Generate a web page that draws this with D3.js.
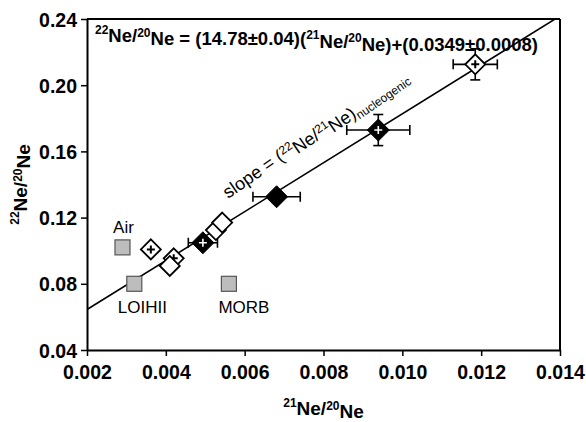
<!DOCTYPE html>
<html>
<head>
<meta charset="utf-8">
<script src="https://cdn.jsdelivr.net/npm/d3@7"></script>
<style>
  body { margin: 0; background: #fff; }
  svg text { font-family: "Liberation Sans", Arial, sans-serif; fill: #000; }
</style>
</head>
<body>
<svg id="chart" width="586" height="422"></svg>
<script>
// reference gases
const refNames = ["Air", "LOIHII", "MORB"];
const refX = [0.0029, 0.0032, 0.0056];
const refY = [0.102, 0.080, 0.080];

// open diamonds
const openX = [0.00362, 0.00420, 0.00410, 0.00527, 0.00543, 0.01185];
const openY = [0.1008, 0.0954, 0.0908, 0.1125, 0.1170, 0.2126];
const openXErr = [0, 0, 0, 0, 0, 0.00056];
const openYErr = [0, 0, 0, 0, 0, 0.0094];
const openCross = [true, true, false, false, false, true];

// solid diamonds
const solidX = [0.00494, 0.00681, 0.00939];
const solidY = [0.1048, 0.1326, 0.1729];
const solidXErr = [0.00037, 0.0006, 0.0008];
const solidYErr = [0, 0, 0.0094];
const solidCross = [true, false, true];

// regression
const slope = 14.78, intercept = 0.0349;

const xTicks = [0.002, 0.004, 0.006, 0.008, 0.010, 0.012, 0.014];
const yTicks = [0.04, 0.08, 0.12, 0.16, 0.20, 0.24];

const svg = d3.select("#chart");
const margin = { top: 19, right: 26, bottom: 72, left: 87 };
const width = +svg.attr("width") - margin.left - margin.right;
const height = +svg.attr("height") - margin.top - margin.bottom;

const g = svg.append("g").attr("transform", `translate(${margin.left},${margin.top})`);

const x = d3.scaleLinear().domain([0.002, 0.014]).range([0, width]);
const y = d3.scaleLinear().domain([0.04, 0.24]).range([height, 0]);

// axes
const xAxis = g.append("g")
  .attr("transform", `translate(0,${height})`)
  .call(d3.axisBottom(x).tickValues(xTicks).tickFormat(d3.format(".3f")).tickSizeInner(6).tickSizeOuter(0).tickPadding(9));
const yAxis = g.append("g")
  .call(d3.axisLeft(y).tickValues(yTicks).tickFormat(d3.format(".2f")).tickSizeInner(6).tickSizeOuter(0).tickPadding(4));

[xAxis, yAxis].forEach(a => {
  a.selectAll("path").attr("stroke", "#000").attr("stroke-width", 2);
  a.selectAll("line").attr("stroke", "#000").attr("stroke-width", 1.5);
  a.selectAll("text")
    .style("font-size", "19.5px")
    .style("font-weight", "bold")
    .attr("font-family", null);
});
yAxis.selectAll("text").attr("dy", "0.36em");

// frame top / right
g.append("line").attr("x1", 0).attr("x2", width).attr("y1", 0).attr("y2", 0)
  .attr("stroke", "#000").attr("stroke-width", 2);
g.append("line").attr("x1", width).attr("x2", width).attr("y1", 0).attr("y2", height)
  .attr("stroke", "#000").attr("stroke-width", 2);

// clip
svg.append("defs").append("clipPath").attr("id", "clip")
  .append("rect").attr("width", width).attr("height", height);

// regression line
const x0 = 0.002, x1 = 0.014;
g.append("line")
  .attr("clip-path", "url(#clip)")
  .attr("x1", x(x0)).attr("y1", y(slope * x0 + intercept))
  .attr("x2", x(x1)).attr("y2", y(slope * x1 + intercept))
  .attr("stroke", "#000").attr("stroke-width", 1.6);

// error bars helper
function errBars(xs, ys, xe, ye) {
  const eg = g.append("g").attr("stroke", "#000").attr("stroke-width", 1.6);
  xs.forEach((d, i) => {
    const cx = x(d), cy = y(ys[i]);
    if (xe[i] > 0) {
      const l = x(d - xe[i]), r = x(d + xe[i]);
      eg.append("line").attr("x1", l).attr("x2", r).attr("y1", cy).attr("y2", cy);
      eg.append("line").attr("x1", l).attr("x2", l).attr("y1", cy - 5).attr("y2", cy + 5);
      eg.append("line").attr("x1", r).attr("x2", r).attr("y1", cy - 5).attr("y2", cy + 5);
    }
    if (ye[i] > 0) {
      const t = y(ys[i] + ye[i]), b = y(ys[i] - ye[i]);
      eg.append("line").attr("x1", cx).attr("x2", cx).attr("y1", t).attr("y2", b);
      eg.append("line").attr("x1", cx - 5).attr("x2", cx + 5).attr("y1", t).attr("y2", t);
      eg.append("line").attr("x1", cx - 5).attr("x2", cx + 5).attr("y1", b).attr("y2", b);
    }
  });
}
errBars(openX, openY, openXErr, openYErr);
errBars(solidX, solidY, solidXErr, solidYErr);

const diamond = r => `M0,${-r}L${r},0L0,${r}L${-r},0Z`;

// open diamonds
openX.forEach((d, i) => {
  const p = g.append("g").attr("transform", `translate(${x(d)},${y(openY[i])})`);
  p.append("path").attr("d", diamond(10)).attr("fill", "#fff")
    .attr("stroke", "#000").attr("stroke-width", 1.8);
  if (openCross[i]) {
    p.append("path").attr("d", "M-4,0H4M0,-4V4").attr("stroke", "#000").attr("stroke-width", 2);
  }
});

// solid diamonds
solidX.forEach((d, i) => {
  const p = g.append("g").attr("transform", `translate(${x(d)},${y(solidY[i])})`);
  p.append("path").attr("d", diamond(11)).attr("fill", "#000").attr("stroke", "#000");
  if (solidCross[i]) {
    p.append("path").attr("d", "M-4,0H4M0,-4V4").attr("stroke", "#fff").attr("stroke-width", 1.6);
  }
});

// reference squares
const s = 15;
g.selectAll(".ref")
  .data(refX)
  .enter()
  .append("rect")
  .attr("class", "ref")
  .attr("x", d => x(d) - s / 2)
  .attr("y", (d, i) => y(refY[i]) - s / 2)
  .attr("width", s).attr("height", s)
  .attr("fill", "#bdbdbd").attr("stroke", "#555").attr("stroke-width", 1.2);

const refDx = [1, 8, 15];
const refDy = [-14, 29, 29];
g.selectAll(".refLab")
  .data(refNames)
  .enter()
  .append("text")
  .attr("x", (d, i) => x(refX[i]) + refDx[i])
  .attr("y", (d, i) => y(refY[i]) + refDy[i])
  .attr("text-anchor", "middle")
  .style("font-size", "17px")
  .text(d => d);

// equation
const eq = svg.append("text").attr("x", 95).attr("y", 39)
  .style("font-size", "18.5px").style("font-weight", "bold");
const sup = (t, txt) => t.append("tspan").attr("dy", "-0.45em").style("font-size", "12px").text(txt);
const norm = (t, txt) => t.append("tspan").attr("dy", "0.45em").text(txt);
sup(eq, "22"); norm(eq, "Ne/");
sup(eq, "20"); norm(eq, "Ne = (14.78\u00b10.04)(");
sup(eq, "21"); norm(eq, "Ne/");
sup(eq, "20"); norm(eq, "Ne)+(0.0349\u00b10.0008)");

// slope label
const sl = svg.append("text")
  .attr("transform", "translate(228,199) rotate(-34.5)")
  .style("font-size", "18px");
sl.append("tspan").text("slope = (");
sl.append("tspan").attr("dy", "-0.45em").style("font-size", "12px").text("22");
sl.append("tspan").attr("dy", "0.45em").text("Ne/");
sl.append("tspan").attr("dy", "-0.45em").style("font-size", "12px").text("21");
sl.append("tspan").attr("dy", "0.45em").text("Ne)");
sl.append("tspan").attr("dy", "0.3em").style("font-size", "12px").text("nucleogenic");

// axis titles
const xt = svg.append("text")
  .attr("x", margin.left + width / 2).attr("y", 412)
  .attr("text-anchor", "middle")
  .style("font-size", "19px").style("font-weight", "bold");
sup(xt, "21"); norm(xt, "Ne/"); sup(xt, "20"); norm(xt, "Ne");

const yt = svg.append("text")
  .attr("transform", `translate(24,${margin.top + height / 2}) rotate(-90)`)
  .attr("text-anchor", "middle")
  .style("font-size", "19px").style("font-weight", "bold");
sup(yt, "22"); norm(yt, "Ne/"); sup(yt, "20"); norm(yt, "Ne");
</script>
</body>
</html>
